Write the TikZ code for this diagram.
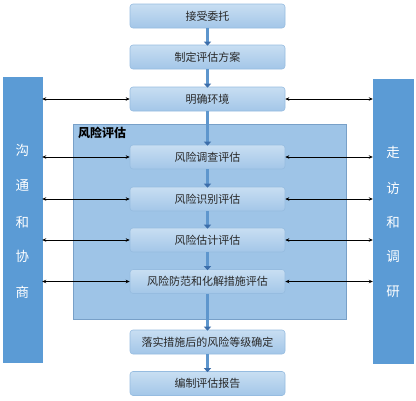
\documentclass[tikz,border=0pt]{standalone}
\usepackage{fontspec}
\setmainfont{Noto Sans CJK SC}
\usetikzlibrary{arrows.meta}
\definecolor{boxtop}{RGB}{200,222,242}
\definecolor{boxbot}{RGB}{163,198,232}
\definecolor{boxline}{RGB}{150,188,224}
\definecolor{bigfill}{RGB}{158,196,231}
\definecolor{bigline}{RGB}{120,160,200}
\definecolor{sidefill}{RGB}{91,155,213}
\definecolor{flowline}{RGB}{94,150,205}
\definecolor{flowtip}{RGB}{60,110,170}
\definecolor{txt}{RGB}{40,40,40}
\tikzset{
  stepbox/.style={draw=boxline, line width=0.6pt, rounded corners=3pt, top color=boxtop, bottom color=boxbot,
    minimum width=155pt, minimum height=24pt, inner sep=0pt, font=\fontsize{11}{11}\selectfont, text=txt},
  sidebox/.style={fill=sidefill, draw=sidefill, inner sep=0pt},
  flow/.style={draw=flowline, line width=3.6pt, -{Triangle[length=4pt,width=7pt,color=flowtip]}, shorten >=-1pt},
  link/.style={draw=black, line width=0.7pt, {Stealth[length=4pt,width=3.5pt]}-{Stealth[length=4pt,width=3.5pt]}},
  sidetext/.style={text=white, font=\fontsize{13.5}{13.5}\selectfont, inner sep=0pt}
}
\begin{document}
\begin{tikzpicture}[x=1pt,y=-1pt]
\useasboundingbox (0,0) rectangle (416,400);
% big risk assessment frame
\node[draw=bigline, fill=bigfill, line width=0.6pt, minimum width=273pt, minimum height=195pt, inner sep=0pt] (frame) at (209.5,221.5) {};
\node[anchor=north west, font=\fontsize{12}{12}\selectfont\bfseries, inner sep=0pt, text=black] (ftitle) at (78,127) {风险评估};
% side bars
\node[sidebox, minimum width=39pt, minimum height=285pt] (left) at (22.5,219.5) {};
\node[sidebox, minimum width=40pt, minimum height=284pt] (right) at (393,221) {};
% steps
\node[stepbox] (s1) at (207.5,16) {接受委托};
\node[stepbox] (s2) at (207.5,57) {制定评估方案};
\node[stepbox] (s3) at (207.5,99) {明确环境};
\node[stepbox] (s4) at (207.5,157) {风险调查评估};
\node[stepbox] (s5) at (207.5,199) {风险识别评估};
\node[stepbox] (s6) at (207.5,240) {风险估计评估};
\node[stepbox] (s7) at (207.5,281.5) {风险防范和化解措施评估};
\node[stepbox] (s8) at (207.5,342) {落实措施后的风险等级确定};
\node[stepbox] (s9) at (207.5,383.5) {编制评估报告};
% flow arrows
\foreach \a/\b in {s1/s2,s2/s3,s3/s4,s4/s5,s5/s6,s6/s7,s7/s8,s8/s9}
  \draw[flow] (\a.south) -- (\b.north);
% side links
\foreach \s in {s3,s4,s5,s6,s7}{
  \draw[link] (left.east |- \s.west) -- (\s.west);
  \draw[link] (\s.east) -- (right.west |- \s.east);
}
% side texts
\node[sidetext] (l1) at (22.5,150) {沟};
\node[sidetext] (l2) at (22.5,186) {通};
\node[sidetext] (l3) at (22.5,222) {和};
\node[sidetext] (l4) at (22.5,256) {协};
\node[sidetext] (l5) at (22.5,292) {商};
\node[sidetext] (r1) at (393,152) {走};
\node[sidetext] (r2) at (393,188) {访};
\node[sidetext] (r3) at (393,222) {和};
\node[sidetext] (r4) at (393,257) {调};
\node[sidetext] (r5) at (393,292) {研};
\end{tikzpicture}
\end{document}
